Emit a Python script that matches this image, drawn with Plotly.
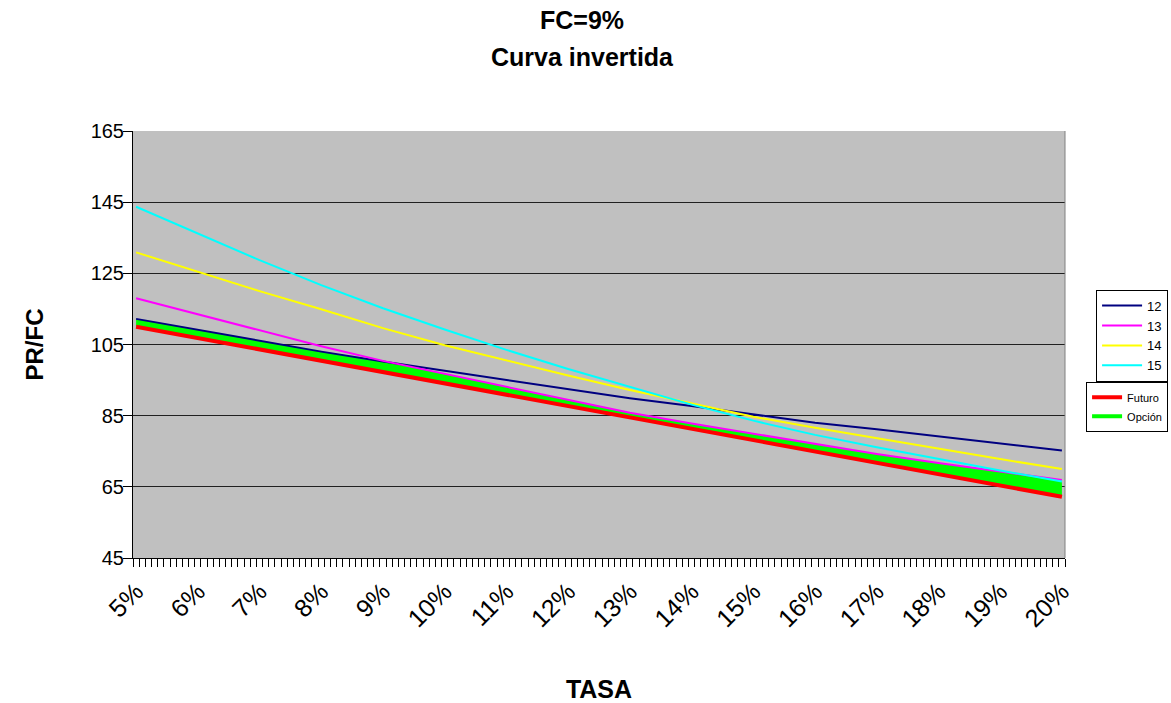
import plotly.graph_objects as go

# Tasa (%) at each labelled point of the horizontal axis
tasa = [5, 6, 7, 8, 9, 10, 11, 12, 13, 14, 15, 16, 17, 18, 19, 20]
tick_labels = ["5%", "6%", "7%", "8%", "9%", "10%", "11%", "12%", "13%", "14%",
               "15%", "16%", "17%", "18%", "19%", "20%"]

# PR/FC for each bond (years 12..15)
pr_12 = [112.2, 109.1, 106.0, 103.0, 100.2, 97.6, 95.1, 92.4, 89.9, 87.7, 85.3, 83.0, 81.2, 79.2, 77.2, 75.2]
pr_13 = [118.0, 113.5, 109.0, 104.5, 100.4, 96.8, 93.1, 89.5, 85.8, 82.8, 79.9, 76.9, 74.2, 71.7, 69.3, 66.9]
pr_14 = [130.9, 125.4, 120.0, 114.9, 109.6, 104.8, 100.5, 96.3, 92.2, 88.4, 84.7, 81.6, 78.6, 75.7, 72.8, 70.0]
pr_15 = [143.7, 136.1, 128.7, 121.7, 115.2, 109.2, 103.5, 98.1, 93.0, 88.1, 83.6, 79.6, 76.1, 72.8, 69.6, 66.5]

# Futures price and upper edge of the delivery option band
futuro = [110.0, 106.8, 103.6, 100.4, 97.2, 94.0, 90.8, 87.6, 84.5, 81.3, 78.1, 74.9, 71.7, 68.5, 65.3, 62.2]
opcion_sup = [112.2, 109.1, 106.0, 103.0, 100.2, 96.8, 93.1, 89.5, 85.8, 82.8, 79.9, 76.9, 74.2, 71.7, 69.3, 66.5]

series = [("12", pr_12, "#000080"), ("13", pr_13, "#FF00FF"),
          ("14", pr_14, "#FFFF00"), ("15", pr_15, "#00FFFF")]

FONT = "Liberation Sans, Arial, sans-serif"

fig = go.Figure()

# option band: filled from the futures line up to the cheapest bond
fig.add_trace(go.Scatter(x=tasa, y=futuro, mode="lines", line=dict(width=0),
                         showlegend=False, hoverinfo="skip"))
fig.add_trace(go.Scatter(x=tasa, y=opcion_sup, mode="lines", line=dict(width=0),
                         fill="tonexty", fillcolor="#00FF00",
                         showlegend=False, hoverinfo="skip"))

for name, vals, col in series:
    fig.add_trace(go.Scatter(x=tasa, y=vals, mode="lines", name=name,
                             line=dict(color=col, width=2), legend="legend"))

fig.add_trace(go.Scatter(x=tasa, y=futuro, mode="lines", name="Futuro",
                         line=dict(color="#FF0000", width=4), legend="legend2"))
fig.add_trace(go.Scatter(x=[None], y=[None], mode="lines", name="Opción",
                         line=dict(color="#00FF00", width=4), legend="legend2"))

fig.update_layout(
    width=1171, height=703,
    margin=dict(l=133, r=106, t=131, b=145),
    paper_bgcolor="white", plot_bgcolor="#C0C0C0",
    font=dict(family=FONT, color="black"),
    legend=dict(xref="container", yref="container", x=0.9975, y=0.588,
                xanchor="right", yanchor="top", bgcolor="white",
                bordercolor="black", borderwidth=1, itemwidth=40,
                traceorder="normal",
                font=dict(size=13, family=FONT), tracegroupgap=0),
    legend2=dict(xref="container", yref="container", x=0.9975, y=0.457,
                 xanchor="right", yanchor="top", bgcolor="white",
                 bordercolor="black", borderwidth=1, itemwidth=30,
                 traceorder="normal",
                 font=dict(size=11, family=FONT), tracegroupgap=0),
)

# two-line chart heading
fig.add_annotation(text="<b>FC=9%</b>", xref="paper", yref="paper",
                   x=0.4818, y=1.26, xanchor="center", yanchor="middle",
                   showarrow=False, font=dict(size=25, family=FONT))
fig.add_annotation(text="<b>Curva invertida</b>", xref="paper", yref="paper",
                   x=0.4818, y=1.173, xanchor="center", yanchor="middle",
                   showarrow=False, font=dict(size=25, family=FONT))

fig.update_xaxes(
    range=[4.95, 20.05], tickmode="array", tickvals=tasa, ticktext=tick_labels,
    tickangle=-45, ticks="", ticklabelstandoff=8, automargin=False,
    tickfont=dict(size=25, family=FONT),
    minor=dict(tickmode="linear", tick0=4.95, dtick=0.1, ticks="outside",
               ticklen=8, tickcolor="black", tickwidth=1, showgrid=False),
    showline=True, linecolor="black", linewidth=1, mirror=False,
    showgrid=False, zeroline=False,
    title=dict(text="<b>TASA</b>", font=dict(size=25, family=FONT), standoff=50),
)

fig.update_yaxes(
    range=[45, 165], tickmode="linear", tick0=45, dtick=20, automargin=False,
    ticks="outside", ticklen=9, tickcolor="black",
    tickfont=dict(size=20, family=FONT), ticklabelstandoff=-5,
    showline=True, linecolor="black", linewidth=1,
    showgrid=True, gridcolor="#202020", gridwidth=1, zeroline=False,
    title=dict(text="<b>PR/FC</b>", font=dict(size=24, family=FONT), standoff=40),
)

# thin border on the right side of the plot area
fig.add_shape(type="line", xref="paper", yref="paper", x0=1, x1=1, y0=0, y1=1,
              line=dict(color="#808080", width=1))

fig.write_html("out.html")
